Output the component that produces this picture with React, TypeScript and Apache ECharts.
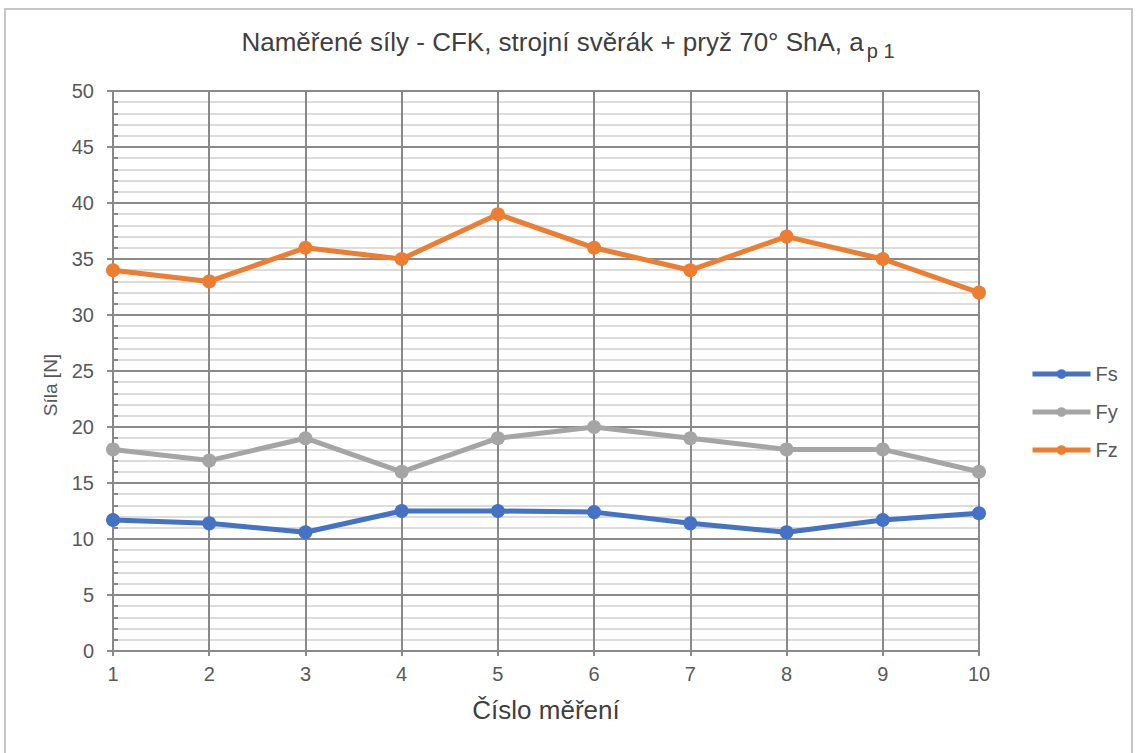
import React, { useEffect, useRef } from "react";
import * as echarts from "echarts";

// Measurement numbers (x axis) and measured forces in newtons
const categories = ["1", "2", "3", "4", "5", "6", "7", "8", "9", "10"];
const fsValues = [11.7, 11.4, 10.6, 12.5, 12.5, 12.4, 11.4, 10.6, 11.7, 12.3];
const fyValues = [18, 17, 19, 16, 19, 20, 19, 18, 18, 16];
const fzValues = [34, 33, 36, 35, 39, 36, 34, 37, 35, 32];

const seriesNames = ["Fs", "Fy", "Fz"];
const seriesColors = ["#4472C4", "#A5A5A5", "#ED7D31"];

const yMin = 0;
const yMax = 50;
const yMajor = 5;
const yMinor = 1;

const FONT = "'Liberation Sans', Arial, sans-serif";
const GRID_DARK = "#898989";
const GRID_LIGHT = "#dcdcdc";
const LABEL = "#595959";

export default function App() {
  const ref = useRef<HTMLDivElement>(null);

  useEffect(() => {
    if (!ref.current) return;
    const chart = echarts.init(ref.current, null, { renderer: "svg" });
    const values = [fsValues, fyValues, fzValues];

    chart.setOption({
      animation: false,
      backgroundColor: "#ffffff",
      textStyle: { fontFamily: FONT },
      title: {
        text: "{m|Naměřené síly - CFK, strojní svěrák + pryž 70° ShA, a}{s|p 1}",
        left: "center",
        top: 29,
        padding: 0,
        textStyle: {
          fontWeight: "normal",
          rich: {
            m: {
              fontSize: 26,
              lineHeight: 32,
              verticalAlign: "top",
              color: "#404040",
              fontWeight: "normal",
              fontFamily: FONT,
            },
            s: {
              fontSize: 20,
              lineHeight: 21,
              verticalAlign: "bottom",
              color: "#404040",
              fontWeight: "normal",
              fontFamily: FONT,
              padding: [0, 0, 0, 3],
            },
          },
        },
      },
      legend: {
        data: seriesNames,
        orient: "vertical",
        left: 1025,
        top: 359,
        itemWidth: 58,
        itemHeight: 12,
        itemGap: 18,
        lineStyle: { width: 5 },
        textStyle: { fontSize: 20, color: LABEL, fontFamily: FONT },
      },
      grid: { left: 113, right: 157, top: 91, bottom: 102 },
      xAxis: {
        type: "category",
        data: categories,
        boundaryGap: false,
        name: "Číslo měření",
        nameLocation: "middle",
        nameGap: 46,
        nameTextStyle: { fontSize: 26, color: "#404040", fontFamily: FONT },
        axisLine: { show: true, lineStyle: { color: GRID_DARK, width: 2 } },
        axisTick: { show: true, length: 5, lineStyle: { color: GRID_DARK, width: 2 } },
        axisLabel: { fontSize: 20, color: LABEL, margin: 13, fontFamily: FONT },
        splitLine: { show: true, lineStyle: { color: GRID_DARK, width: 2 } },
      },
      yAxis: [
        {
          type: "value",
          min: yMin,
          max: yMax,
          interval: yMajor,
          axisLine: { show: true, lineStyle: { color: GRID_DARK, width: 2 } },
          axisTick: { show: true, length: 6, lineStyle: { color: GRID_DARK, width: 2 } },
          axisLabel: { fontSize: 20, color: LABEL, margin: 19, fontFamily: FONT },
          splitLine: { show: true, lineStyle: { color: GRID_DARK, width: 2 } },
          minorTick: { show: false, splitNumber: yMajor / yMinor },
          minorSplitLine: { show: true, lineStyle: { color: GRID_LIGHT, width: 2 } },
        },
        {
          // inner minor ticks at every newton
          type: "value",
          min: yMin,
          max: yMax,
          interval: yMinor,
          position: "left",
          axisLine: { show: false },
          axisLabel: { show: false },
          splitLine: { show: false },
          axisTick: {
            show: true,
            inside: true,
            length: 5,
            lineStyle: { color: GRID_DARK, width: 2 },
          },
        },
      ],
      graphic: [
        {
          type: "rect",
          shape: { x: 5, y: 9, width: 1127, height: 760 },
          style: { fill: "none", stroke: "#c6c6c6", lineWidth: 2 },
          silent: true,
        },
        {
          type: "text",
          x: 50,
          y: 385,
          rotation: Math.PI / 2,
          style: {
            text: "Síla [N]",
            fontSize: 19,
            fontFamily: FONT,
            fill: LABEL,
            align: "center",
            verticalAlign: "middle",
          },
        },
      ],
      series: seriesNames.map((name, i) => ({
        name,
        type: "line",
        yAxisIndex: 0,
        data: values[i],
        symbol: "circle",
        symbolSize: 14,
        color: seriesColors[i],
        lineStyle: { width: 5, color: seriesColors[i] },
        itemStyle: { color: seriesColors[i] },
      })),
    });

    return () => chart.dispose();
  }, []);

  return (
    <div
      ref={ref}
      style={{ position: "fixed", left: 0, top: 0, width: 1136, height: 753 }}
    />
  );
}
